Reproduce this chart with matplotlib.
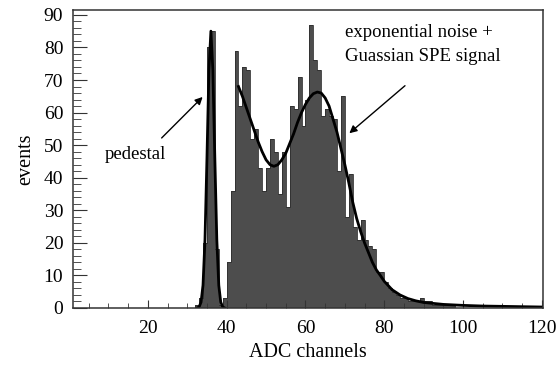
import matplotlib
matplotlib.use("Agg")
import matplotlib.pyplot as plt
from matplotlib.ticker import MultipleLocator

plt.rcParams['font.family'] = ['Liberation Serif', 'DejaVu Serif']

# histogram: channel (bin left edge) -> events
channels = list(range(32, 98))
counts = [1, 3, 20, 80, 85, 18, 1, 3, 14, 36,
          79, 62, 74, 73, 52, 55, 43, 36, 43, 52,
          48, 35, 48, 31, 62, 61, 71, 56, 64, 87,
          76, 73, 59, 61, 59, 58, 42, 65, 28, 41,
          25, 21, 27, 21, 19, 18, 11, 11, 8, 6,
          5, 4, 3, 3, 2, 2, 2, 3, 2, 2,
          1, 1, 1, 1, 1, 1]

# pedestal fit
ped_x = [32.5, 33, 33.5, 34, 34.5, 35, 35.5, 36, 36.5, 37, 37.5, 38, 38.5, 39, 39.5]
ped_y = [0, 0.3, 1.8, 7, 21, 46, 73, 85, 73, 46, 21, 7, 1.8, 0.3, 0]

# exponential noise + gaussian SPE fit
fit_x = [43, 44, 45, 46, 47, 48, 49, 50, 51, 52, 53, 54, 55, 56, 57, 58, 59, 60,
         61, 62, 63, 64, 65, 66, 67, 68, 69, 70, 71, 72, 73, 74, 75, 76, 77, 78,
         79, 80, 82, 84, 86, 88, 90, 95, 100, 105, 110, 115, 120]
fit_y = [68, 65, 61.5, 58, 54.5, 51, 48, 45.5, 44, 43.5, 44, 45.5, 47.5, 50.5, 53.5, 57, 60, 62.5,
         64.5, 65.8, 66.3, 66, 64.5, 62, 58, 54, 49, 44, 38.5, 32.5, 27.5, 23.5, 20, 17, 14, 11.7,
         10, 8.2, 5.6, 4, 2.9, 2.2, 1.7, 1.1, 0.8, 0.6, 0.5, 0.4, 0.3]

fig = plt.figure(figsize=(5.59, 3.67), dpi=100)
ax = fig.add_axes([0.1306, 0.1608, 0.8408, 0.812])

edges = channels + [channels[-1] + 1]
ax.stairs(counts, edges, fill=True, color='#4d4d4d')
ax.stairs(counts, edges, color='#2e2e2e', lw=0.6)
ax.plot(ped_x, ped_y, color='black', lw=2.0)
ax.plot(fit_x, fit_y, color='black', lw=2.0)

ax.set_xlim(1, 120.3)
ax.set_ylim(0, 91.5)

ax.xaxis.set_major_locator(MultipleLocator(20))
ax.xaxis.set_minor_locator(MultipleLocator(5))
ax.yaxis.set_major_locator(MultipleLocator(10))
ax.yaxis.set_minor_locator(MultipleLocator(2))
ax.tick_params(which='both', direction='in', labelsize=14, colors='#333333',
               labelcolor='black')
ax.tick_params(axis='y', which='major', length=10, pad=7)
ax.tick_params(axis='y', which='minor', length=5.5)
ax.tick_params(axis='x', which='major', length=5.5, pad=9)
ax.tick_params(axis='x', which='minor', length=3.5)
for s in ax.spines.values():
    s.set_linewidth(1.1)
    s.set_color('#333333')

ax.set_xlabel('ADC channels', fontsize=14.5, labelpad=4)
ax.set_ylabel('events', fontsize=14.5, labelpad=6)

ax.text(9.0, 47, 'pedestal', fontsize=13.5, va='center', ha='left')
ax.annotate('', xy=(34.4, 65.4), xytext=(23, 51.6),
            arrowprops=dict(arrowstyle='-|>', color='black', lw=1, mutation_scale=11))

ax.text(70, 84.5, 'exponential noise +', fontsize=13.5, va='center', ha='left')
ax.text(70, 77.1, 'Guassian SPE signal', fontsize=13.5, va='center', ha='left')
ax.annotate('', xy=(70.6, 53.1), xytext=(85.8, 68.8),
            arrowprops=dict(arrowstyle='-|>', color='black', lw=1, mutation_scale=11))

fig.savefig('out.png', dpi=100)
